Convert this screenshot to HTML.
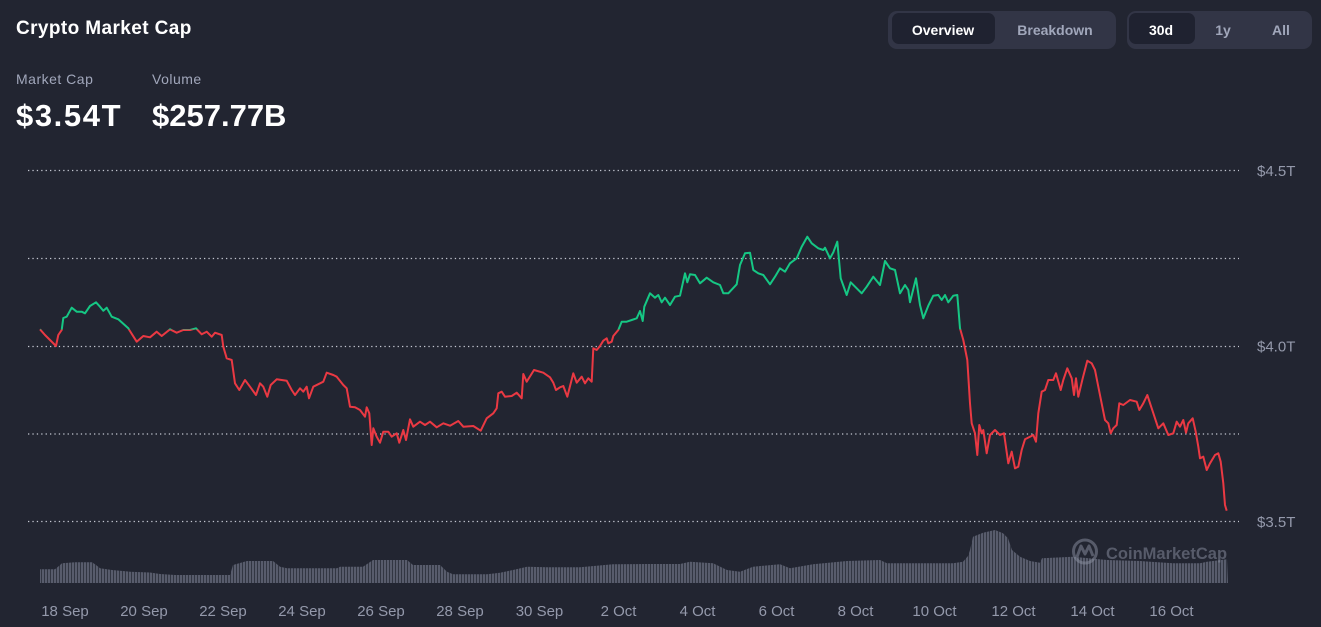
<!DOCTYPE html>
<html><head><meta charset="utf-8"><style>
html,body{margin:0;padding:0;background:#222531;}
body{width:1321px;height:627px;overflow:hidden;position:relative;font-family:"Liberation Sans",Arial,sans-serif;}
.t{position:absolute;white-space:nowrap;}
.title{left:16px;top:17px;font-size:19px;font-weight:bold;color:#fff;letter-spacing:0.4px;line-height:24px;}
.lbl{top:70px;font-size:14px;color:#a1a7bb;letter-spacing:0.5px;line-height:18px;}
.val{top:98px;font-size:31px;font-weight:bold;color:#fff;line-height:36px;}
.grp{position:absolute;top:11px;height:38px;background:#323546;border-radius:9px;}
.act{position:absolute;top:2px;height:31px;background:#1f2230;border-radius:7px;}
.bt{position:absolute;top:21px;font-size:14px;font-weight:bold;line-height:18px;transform:translateX(-50%);}
</style></head><body>
<div class="t title">Crypto Market Cap</div>
<div class="t lbl" style="left:16px;">Market Cap</div>
<div class="t lbl" style="left:152px;">Volume</div>
<div class="t val" style="left:16px;letter-spacing:1.6px;">$3.54T</div>
<div class="t val" style="left:152px;">$257.77B</div>

<div class="grp" style="left:888px;width:228px;"><div class="act" style="left:4px;width:103px;"></div></div>
<div class="grp" style="left:1127px;width:185px;"><div class="act" style="left:2px;width:66px;"></div></div>
<div class="t bt" style="left:943px;color:#fff;">Overview</div>
<div class="t bt" style="left:1055px;color:#a1a7bb;">Breakdown</div>
<div class="t bt" style="left:1161px;color:#fff;">30d</div>
<div class="t bt" style="left:1223px;color:#a1a7bb;">1y</div>
<div class="t bt" style="left:1281px;color:#a1a7bb;">All</div>

<svg width="1321" height="627" style="position:absolute;left:0;top:0;" xmlns="http://www.w3.org/2000/svg">
<defs>
<pattern id="vb" width="3" height="10" patternUnits="userSpaceOnUse"><rect x="0" y="0" width="2.3" height="10" fill="#585c6c"/></pattern>
<clipPath id="cg"><rect x="0" y="0" width="1321" height="329.5"/></clipPath>
<clipPath id="cr"><rect x="0" y="329.5" width="1321" height="300"/></clipPath>
</defs>
<g stroke="#c4c7d1" stroke-width="1.3" stroke-dasharray="1.3 3.1">
<line x1="28" y1="170.5" x2="1239" y2="170.5"/>
<line x1="28" y1="258.5" x2="1239" y2="258.5"/>
<line x1="28" y1="346.5" x2="1239" y2="346.5"/>
<line x1="28" y1="434" x2="1239" y2="434"/>
<line x1="28" y1="521.5" x2="1239" y2="521.5"/>
</g>
<g font-family="Liberation Sans, Arial, sans-serif" font-size="15" fill="#9499ab">
<text x="1257" y="176">$4.5T</text>
<text x="1257" y="351.5">$4.0T</text>
<text x="1257" y="527">$3.5T</text>
</g>
<polygon fill="url(#vb)" points="40,583 40,569.3 55,569.3 58,566.7 62,563.3 75,562.3 92,562.3 96,565 100,568.3 112,570 130,571.7 150,572.5 160,574 175,575 230,575 233,565 247,561 273,561 280,566.7 287,568.3 337,568.3 340,566.7 363,566.7 373,560 407,560 413,565 440,565 447,571.7 453,574.3 487,574.3 500,572.7 513,570 527,566.7 547,567.3 580,567.3 613,564.3 647,564 680,564 690,561.7 713,563.3 727,570 740,571.7 753,566.7 780,564.3 790,568.3 813,564.3 847,561 880,560 887,563.3 913,563.3 953,563.3 963,561.7 968,556 970,550 973,536.7 983,532.7 995,530 1003,533.3 1008,538.3 1012,550 1020,556.7 1030,561 1040,562.7 1042,558.3 1073,556.7 1107,560 1140,561 1173,563.3 1200,563.3 1207,561.7 1227,559.3 1228,583"/>
<g opacity="0.5">
<circle cx="1085" cy="551.5" r="11.5" fill="none" stroke="#8d92a3" stroke-width="3"/>
<path d="M1077,557 L1081,546 L1085,554 L1089,546 L1093,556" fill="none" stroke="#8d92a3" stroke-width="3" stroke-linejoin="round"/>
<text x="1106" y="559" font-family="Liberation Sans, Arial, sans-serif" font-size="16.5" font-weight="bold" fill="#8d92a3">CoinMarketCap</text>
</g>
<polyline fill="none" stroke-width="2" stroke-linejoin="round" stroke="#16c784" clip-path="url(#cg)" points="40,329.3 45,335 50,340 56,346 58.3,335 61.7,330 63.3,318 66.7,316.7 71.7,307.7 76.7,311.7 81.7,311.7 85,313.3 90,306 96,302.3 100,306.7 103.3,310.7 106.7,307.7 111.7,316.7 118.3,319.3 128.3,328.3 129.3,330 136.7,341.7 143.3,336 150,337.3 156.7,331.7 161.7,336 170,329.3 176.7,332.7 183.3,330 190,330 196,328.3 201.7,334.3 206.7,331.7 211.7,336.7 215,332.7 221.7,335 223.3,346.7 226.7,358.3 231.7,360 235,383.3 239.3,390 245,380 250,386.7 256,395 260,383.3 263.3,386.7 267.3,396.7 270.7,385 276.7,379.3 286.7,380.7 291.7,390 295,395 300,388.3 303.3,391.7 306.7,386.7 309,398.3 313.3,386.7 323.3,381.7 326.7,372.7 333.3,375 336.7,376.7 343.3,385 346.7,388.3 350,406.7 355,407.3 360,410 365,416.7 366.7,407.3 369.3,413.3 371.7,445 373.3,428.3 376.7,436.7 380,442.7 383.3,431.7 388.3,431.7 391.7,436.7 396.7,433.3 399.3,442.7 403.3,430 406,440 410,419.3 413.3,426.7 420,421.7 425,425 430,421.7 436.7,427.3 443.3,423.3 450,425.7 458.3,421 463.3,426.7 473.3,426 480.7,430.7 486.7,418.3 493.3,413.3 496.7,408.3 498.3,393.3 501.7,391.7 505,396.7 511.7,396 516.7,392.7 521.7,398.3 523.3,374 526.7,381.7 534,370 543.3,372.7 550,377.3 553.3,382.7 556,390 560,387.3 563.3,386 567.3,396.7 573.3,373.3 576.7,382.7 581.7,376.7 585,383.3 588.3,378.3 591.7,381.7 593.3,348.3 596.7,350 600,346 603.3,340.7 606.7,338.3 608.3,343.3 611.7,341.7 613.3,336 618.3,330 621.7,321.7 626.7,321.7 631.7,320 636.7,318.3 640,311 642.7,321 644.3,306.7 650,293.3 655,297.7 658.3,295 661.7,302.3 665,297.7 670,305 675,296.7 680,295.7 685,273.3 687.3,282.3 690,274.3 695,275 700,283.3 706.7,277.7 713.3,282.3 720,285 723.3,293.3 728.3,293.3 736.7,284.3 740,265 745,253.3 750,252.7 753.3,270 758.3,273.3 763.3,275 770,284.3 775,276.7 780,268.3 785,271.7 790,263.3 796.7,258.3 801.7,246.7 807.3,236.7 811.7,243.3 818.3,248.3 823.3,250 825,247.7 830,258.3 833.3,252.3 837.3,241.7 840.7,278.3 846.7,295 850.7,282.3 856.7,288.3 861.7,293.3 866.7,286.7 873.3,276.7 880,285 885,261 890,268.3 895,270 900,293.3 905,285 908.3,290 910,302.3 916,278.3 920,305 923.3,318.3 928.3,305.7 933.3,295.7 938.3,295 941.7,300 945,295 948.3,302.3 953.3,295.7 957.3,295 960,328.3 963.3,340 967.3,360 970,403.3 971.7,423.3 975,433.3 977.3,455 979.3,425 981.7,433.3 983.3,430 986.7,453.3 990,435 995,430 1000,435 1004,433.3 1008.3,463.3 1011.7,451.7 1015,468.3 1018.3,466.7 1021.7,450 1025,439.3 1030,436.7 1033.3,435 1036,441.7 1038.3,413.3 1041.7,391.7 1045,390 1048.3,380 1053.3,380 1056,373.3 1060.7,390 1063.3,380 1067.3,368.3 1071.7,378.3 1074,395 1076,378.3 1078.3,396.7 1082.7,378.3 1087.3,360.7 1091.7,363.3 1095,370 1098.3,386.7 1105,420 1108.3,423.3 1110.7,433.3 1113.3,428.3 1116.7,425 1119.3,403.3 1123.3,405 1130,400 1136.7,401.7 1139.3,410 1143.3,403.3 1147.3,395 1151.7,408.3 1158.3,428.3 1163.3,423.3 1168.3,435 1173.3,433.3 1176.7,421.7 1180,426.7 1183.3,420 1186,432.7 1188.3,423.3 1192.7,418.3 1195.7,431.7 1198.3,446.7 1200,458.3 1203.3,456.7 1206.7,470 1210,463.3 1215,455 1218.3,453.3 1220.7,461.7 1223.3,483.3 1225,505 1226.7,510.7"/>
<polyline fill="none" stroke-width="2" stroke-linejoin="round" stroke="#ea3943" clip-path="url(#cr)" points="40,329.3 45,335 50,340 56,346 58.3,335 61.7,330 63.3,318 66.7,316.7 71.7,307.7 76.7,311.7 81.7,311.7 85,313.3 90,306 96,302.3 100,306.7 103.3,310.7 106.7,307.7 111.7,316.7 118.3,319.3 128.3,328.3 129.3,330 136.7,341.7 143.3,336 150,337.3 156.7,331.7 161.7,336 170,329.3 176.7,332.7 183.3,330 190,330 196,328.3 201.7,334.3 206.7,331.7 211.7,336.7 215,332.7 221.7,335 223.3,346.7 226.7,358.3 231.7,360 235,383.3 239.3,390 245,380 250,386.7 256,395 260,383.3 263.3,386.7 267.3,396.7 270.7,385 276.7,379.3 286.7,380.7 291.7,390 295,395 300,388.3 303.3,391.7 306.7,386.7 309,398.3 313.3,386.7 323.3,381.7 326.7,372.7 333.3,375 336.7,376.7 343.3,385 346.7,388.3 350,406.7 355,407.3 360,410 365,416.7 366.7,407.3 369.3,413.3 371.7,445 373.3,428.3 376.7,436.7 380,442.7 383.3,431.7 388.3,431.7 391.7,436.7 396.7,433.3 399.3,442.7 403.3,430 406,440 410,419.3 413.3,426.7 420,421.7 425,425 430,421.7 436.7,427.3 443.3,423.3 450,425.7 458.3,421 463.3,426.7 473.3,426 480.7,430.7 486.7,418.3 493.3,413.3 496.7,408.3 498.3,393.3 501.7,391.7 505,396.7 511.7,396 516.7,392.7 521.7,398.3 523.3,374 526.7,381.7 534,370 543.3,372.7 550,377.3 553.3,382.7 556,390 560,387.3 563.3,386 567.3,396.7 573.3,373.3 576.7,382.7 581.7,376.7 585,383.3 588.3,378.3 591.7,381.7 593.3,348.3 596.7,350 600,346 603.3,340.7 606.7,338.3 608.3,343.3 611.7,341.7 613.3,336 618.3,330 621.7,321.7 626.7,321.7 631.7,320 636.7,318.3 640,311 642.7,321 644.3,306.7 650,293.3 655,297.7 658.3,295 661.7,302.3 665,297.7 670,305 675,296.7 680,295.7 685,273.3 687.3,282.3 690,274.3 695,275 700,283.3 706.7,277.7 713.3,282.3 720,285 723.3,293.3 728.3,293.3 736.7,284.3 740,265 745,253.3 750,252.7 753.3,270 758.3,273.3 763.3,275 770,284.3 775,276.7 780,268.3 785,271.7 790,263.3 796.7,258.3 801.7,246.7 807.3,236.7 811.7,243.3 818.3,248.3 823.3,250 825,247.7 830,258.3 833.3,252.3 837.3,241.7 840.7,278.3 846.7,295 850.7,282.3 856.7,288.3 861.7,293.3 866.7,286.7 873.3,276.7 880,285 885,261 890,268.3 895,270 900,293.3 905,285 908.3,290 910,302.3 916,278.3 920,305 923.3,318.3 928.3,305.7 933.3,295.7 938.3,295 941.7,300 945,295 948.3,302.3 953.3,295.7 957.3,295 960,328.3 963.3,340 967.3,360 970,403.3 971.7,423.3 975,433.3 977.3,455 979.3,425 981.7,433.3 983.3,430 986.7,453.3 990,435 995,430 1000,435 1004,433.3 1008.3,463.3 1011.7,451.7 1015,468.3 1018.3,466.7 1021.7,450 1025,439.3 1030,436.7 1033.3,435 1036,441.7 1038.3,413.3 1041.7,391.7 1045,390 1048.3,380 1053.3,380 1056,373.3 1060.7,390 1063.3,380 1067.3,368.3 1071.7,378.3 1074,395 1076,378.3 1078.3,396.7 1082.7,378.3 1087.3,360.7 1091.7,363.3 1095,370 1098.3,386.7 1105,420 1108.3,423.3 1110.7,433.3 1113.3,428.3 1116.7,425 1119.3,403.3 1123.3,405 1130,400 1136.7,401.7 1139.3,410 1143.3,403.3 1147.3,395 1151.7,408.3 1158.3,428.3 1163.3,423.3 1168.3,435 1173.3,433.3 1176.7,421.7 1180,426.7 1183.3,420 1186,432.7 1188.3,423.3 1192.7,418.3 1195.7,431.7 1198.3,446.7 1200,458.3 1203.3,456.7 1206.7,470 1210,463.3 1215,455 1218.3,453.3 1220.7,461.7 1223.3,483.3 1225,505 1226.7,510.7"/>
<g font-family="Liberation Sans, Arial, sans-serif" font-size="15" fill="#9499ab" text-anchor="middle">
<text x="65" y="616">18 Sep</text>
<text x="144" y="616">20 Sep</text>
<text x="223" y="616">22 Sep</text>
<text x="302" y="616">24 Sep</text>
<text x="381" y="616">26 Sep</text>
<text x="460" y="616">28 Sep</text>
<text x="539.5" y="616">30 Sep</text>
<text x="618.5" y="616">2 Oct</text>
<text x="697.5" y="616">4 Oct</text>
<text x="776.5" y="616">6 Oct</text>
<text x="855.5" y="616">8 Oct</text>
<text x="934.5" y="616">10 Oct</text>
<text x="1013.5" y="616">12 Oct</text>
<text x="1092.5" y="616">14 Oct</text>
<text x="1171.5" y="616">16 Oct</text>
</g>
</svg>
</body></html>
